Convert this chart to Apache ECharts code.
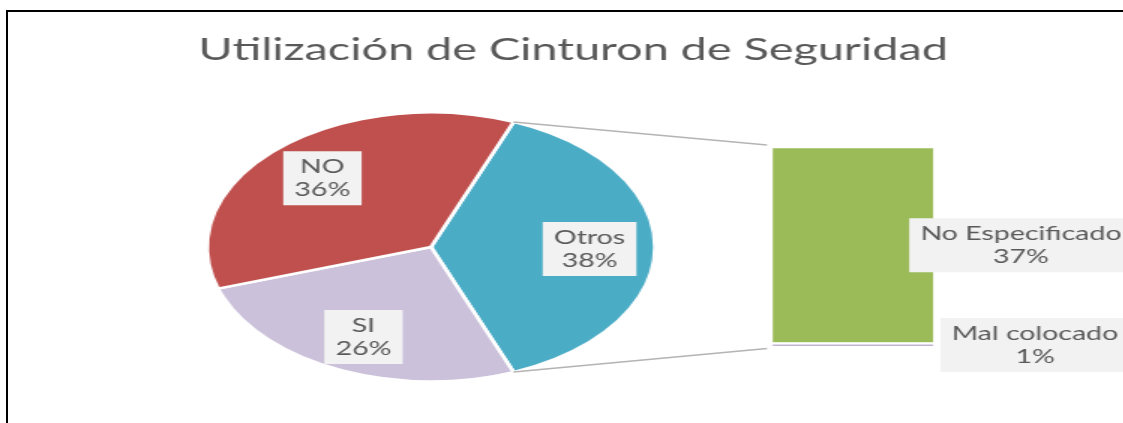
<!DOCTYPE html>
<html>
<head>
<meta charset="utf-8">
<script src="https://cdn.jsdelivr.net/npm/echarts@6/dist/echarts.min.js"></script>
<style>
  html, body { margin:0; padding:0; background:#fff; }
  #wrap { position:relative; width:1123px; height:423px; overflow:hidden; background:#fff; }
  #pieA { position:absolute; left:281px; top:0; width:300px; height:423px; transform-origin:150px 0; }
  #main { position:absolute; left:0; top:0; height:423px; transform-origin:0 0; }
  #frame { position:absolute; left:6px; top:10px; right:-10px; bottom:-10px; border-left:2px solid #000; border-top:2px solid #000; pointer-events:none; }
</style>
</head>
<body>
<div id="wrap">
  <div id="pieA"></div>
  <div id="main"></div>
  <div id="frame"></div>
</div>
<script>
// ---- data ----
const chartTitle = 'Utilización de Cinturon de Seguridad';
const pieCategories = ['NO', 'SI', 'Otros'];
const pieValues = [36, 26, 38];
const pieColors = ['#C0504D', '#CBC1DA', '#4BACC6'];
const barCategories = ['No Especificado', 'Mal colocado'];
const barValues = [37.4, 0.6];
const barColors = ['#9BBB59', '#8064A2'];

// ---- layout (final screen pixels) ----
const FONT = 'Lato';
const TXT = '#595959';
const CX = 431, CY = 247, RY = 134.5, RX = 224;
const SX = RX / RY;      // pie stretch
const SB = 1.5;          // text layer stretch
const W = 1123;
document.getElementById('pieA').style.transform = 'scaleX(' + SX + ')';
const mainEl = document.getElementById('main');
mainEl.style.width = (W / SB) + 'px';
mainEl.style.transform = 'scaleX(' + SB + ')';
const bx = x => x / SB;  // screen x -> text layer x

const pieTotal = pieValues.reduce((a, b) => a + b, 0);
const splitIdx = 2; // 'Otros' is split into the bar
const startAngle = pieValues[splitIdx] / pieTotal * 180;
const order = [2, 1, 0];
const pieData = order.map(i => ({ name: pieCategories[i], value: pieValues[i], itemStyle: { color: pieColors[i] } }));

const chartA = echarts.init(document.getElementById('pieA'), null, { renderer: 'canvas' });
chartA.setOption({
  animation: false,
  series: [{
    type: 'pie', center: ['50%', CY], radius: RY, startAngle: startAngle, clockwise: true,
    silent: true, label: { show: false }, labelLine: { show: false },
    itemStyle: { borderColor: '#fff', borderWidth: 2.4 },
    data: pieData
  }]
});

const labelBase = {
  fontFamily: FONT, fontSize: 19, color: TXT, lineHeight: 23,
  backgroundColor: '#F2F2F2', padding: [4, 7.5, 4, 7.5]
};

const barTotal = barValues.reduce((a, b) => a + b, 0);
const barLabelCenters = [1021, 1035]; // screen x of label box centres
const barLeft = 771, barRight = 935;
const barOrder = [1, 0]; // bottom of the stack first

const chartB = echarts.init(mainEl, null, { renderer: 'canvas' });
chartB.setOption({
  animation: false,
  title: {
    text: chartTitle, left: bx(191), top: 29,
    textStyle: { fontFamily: FONT, fontSize: 31.2, fontWeight: 'normal', color: TXT }
  },
  grid: { left: bx(barLeft), top: 147, width: bx(barRight - barLeft), height: 199.6 },
  xAxis: { type: 'category', data: [''], show: false },
  yAxis: { type: 'value', min: 0, max: barTotal, show: false },
  series: barOrder.map(i => ({
    type: 'bar', name: barCategories[i], stack: 'otros', barWidth: '100%', silent: true,
    data: [barValues[i]],
    itemStyle: { color: barColors[i], borderColor: '#fff', borderWidth: 1.2 },
    label: Object.assign({
      show: true, position: 'right', distance: 0, offset: [bx(barLabelCenters[i] - barRight), 0], align: 'center',
      formatter: p => p.seriesName + '\n' + Math.round(p.value) + '%'
    }, labelBase)
  })).concat([{
    type: 'pie', center: [bx(CX), CY], radius: [0, RY * 1.4], startAngle: startAngle, clockwise: true,
    silent: true, z: 5,
    itemStyle: { color: 'rgba(0,0,0,0)', borderWidth: 0 },
    labelLine: { show: false },
    label: Object.assign({
      show: true, position: 'inside', align: 'center', verticalAlign: 'middle',
      formatter: p => p.name + '\n' + Math.round(p.value / pieTotal * 100) + '%'
    }, labelBase),
    labelLayout: function (p) {
      const r = p.labelRect;
      const mx = r.x + r.width / 2, my = r.y + r.height / 2;
      const c = bx(CX);
      return { x: c + (mx - c) * SX / SB * 0.98, y: my + 2 };
    },
    data: order.map(i => ({ name: pieCategories[i], value: pieValues[i] }))
  }])
});

// connector lines from the split slice edges to the bar corners
const gridRect = chartB.getModel().getComponent('grid').coordinateSystem.getRect();
const topY = chartB.convertToPixel({ yAxisIndex: 0 }, barTotal);
const botY = chartB.convertToPixel({ yAxisIndex: 0 }, 0);
const th = startAngle * Math.PI / 180;
const pTop = [bx(CX + RX * Math.cos(th)), CY - RY * Math.sin(th)];
const pBot = [bx(CX + RX * Math.cos(th)), CY + RY * Math.sin(th)];
const lineStyle = { stroke: '#B4B4B4', lineWidth: 1.5 };
chartB.setOption({
  graphic: [
    { type: 'line', silent: true, shape: { x1: pTop[0], y1: pTop[1], x2: gridRect.x - bx(4), y2: topY - 2 }, style: lineStyle },
    { type: 'line', silent: true, shape: { x1: pBot[0], y1: pBot[1], x2: gridRect.x - bx(4), y2: botY + 2 }, style: lineStyle }
  ]
});
</script>
</body>
</html>
